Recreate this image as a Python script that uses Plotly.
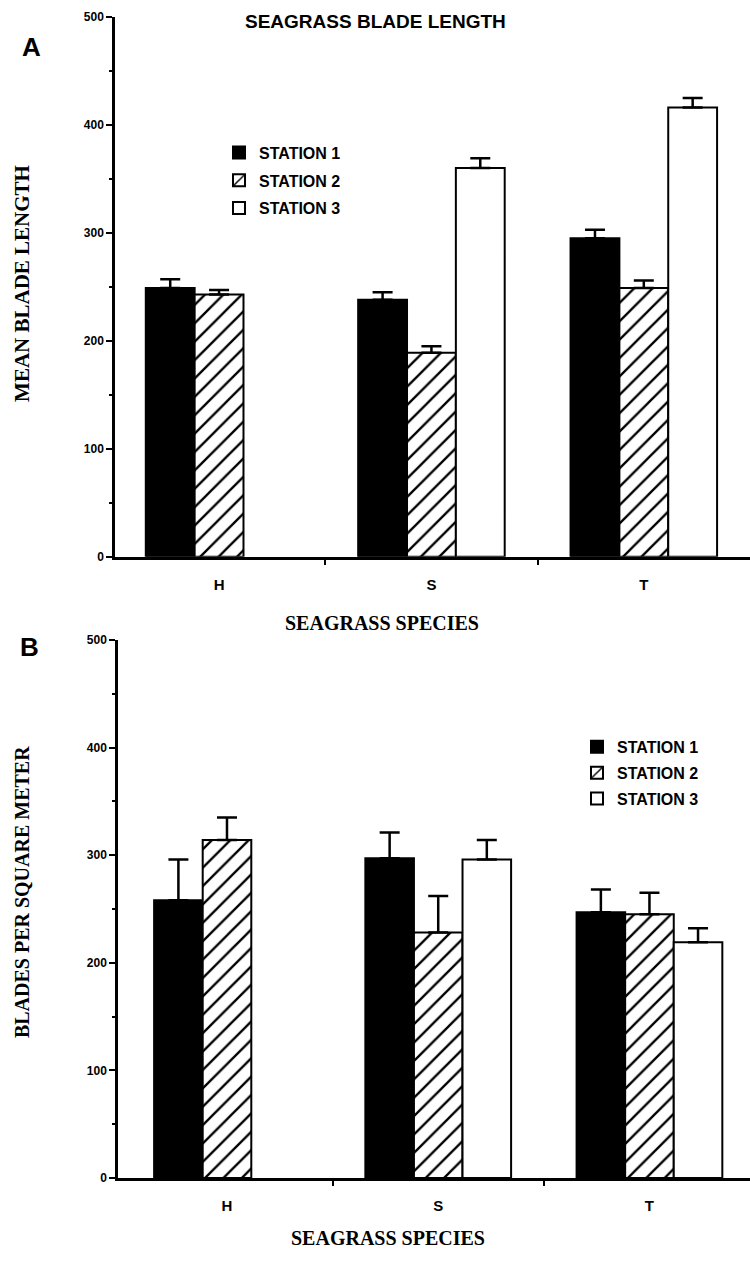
import plotly.graph_objects as go

species = ["H", "S", "T"]
stations = ["STATION 1", "STATION 2", "STATION 3"]

# Panel A: mean blade length
length_s1 = [249, 238, 295]
length_s2 = [243, 189, 249]
length_s3 = [None, 360, 416]
length_err_s1 = [8, 7, 8]
length_err_s2 = [4, 6, 7]
length_err_s3 = [None, 9, 9]

# Panel B: blades per square meter
density_s1 = [258, 297, 247]
density_s2 = [314, 228, 245]
density_s3 = [None, 296, 219]
density_err_s1 = [38, 24, 21]
density_err_s2 = [21, 34, 20]
density_err_s3 = [None, 18, 13]

y_ticks = [0, 100, 200, 300, 400, 500]

W, H = 750, 1268
def px(x): return x / W
def py(y): return 1 - y / H

xpos = [0, 1, 2]

styles = [
    dict(color="black", pattern=None),
    dict(color="white", pattern=dict(shape="/", fgcolor="black", bgcolor="white",
                                     size=13, solidity=0.18, fillmode="replace")),
    dict(color="white", pattern=None),
]

fig = go.Figure()

def add_panel(vals, errs, xa, ya, legend, tag):
    for i, (v, e) in enumerate(zip(vals, errs)):
        st = styles[i]
        marker = dict(color=st["color"], line=dict(color="black", width=2))
        if st["pattern"] is not None:
            marker["pattern"] = st["pattern"]
        fig.add_trace(go.Bar(
            x=xpos, y=v, name=stations[i], marker=marker,
            error_y=dict(type="data", array=[x if x is not None else 0 for x in e],
                         arrayminus=[0, 0, 0], symmetric=False,
                         color="black", thickness=2.5, width=10),
            xaxis=xa, yaxis=ya, legend=legend, legendgroup=tag + str(i),
        ))

add_panel([length_s1, length_s2, length_s3],
          [length_err_s1, length_err_s2, length_err_s3], "x", "y", "legend", "a")
add_panel([density_s1, density_s2, density_s3],
          [density_err_s1, density_err_s2, density_err_s3], "x2", "y2", "legend2", "b")

tickfont = dict(family="Liberation Sans", size=12, color="black", weight="bold")
xtickfont = dict(family="Liberation Sans", size=15, color="black", weight="bold")

def yaxis(domain, anchor):
    return dict(domain=domain, range=[0, 500], tickvals=y_ticks, anchor=anchor,
                ticks="outside", ticklen=6, tickwidth=2, tickcolor="black",
                showline=True, linecolor="black", linewidth=2.5,
                showgrid=False, zeroline=False, tickfont=tickfont,
                minor=dict(dtick=50, ticks="outside", ticklen=3, tickwidth=2,
                           tickcolor="black", showgrid=False),
                fixedrange=True)

def xaxis(domain, rng, anchor):
    return dict(domain=domain, range=rng, anchor=anchor,
                tickvals=xpos, ticktext=species, ticks="",
                showline=True, linecolor="black", linewidth=2.5,
                showgrid=False, zeroline=False, tickfont=xtickfont,
                ticklabelstandoff=12,
                minor=dict(tickvals=[0.5, 1.5], ticks="outside", ticklen=5,
                           tickwidth=2, tickcolor="black", showgrid=False),
                fixedrange=True)

legend_font = dict(family="Liberation Sans", size=16, color="black", weight="bold")

fig.update_layout(
    width=W, height=H,
    margin=dict(l=0, r=0, t=0, b=0),
    paper_bgcolor="white", plot_bgcolor="white",
    barmode="group", bargap=0.31, bargroupgap=0,
    showlegend=True,
    xaxis=xaxis([px(115), 1], [-0.49, 2.5], "y"),
    yaxis=yaxis([py(556), py(10)], "x"),
    xaxis2=xaxis([px(118), 1], [-0.516, 2.476], "y2"),
    yaxis2=yaxis([py(1184), py(640)], "x2"),
    legend=dict(x=px(219), y=py(130), xanchor="left", yanchor="top",
                font=legend_font, bgcolor="rgba(0,0,0,0)", traceorder="grouped",
                tracegroupgap=4, itemclick=False, itemdoubleclick=False),
    legend2=dict(x=px(577), y=py(731), xanchor="left", yanchor="top",
                 font=legend_font, bgcolor="rgba(0,0,0,0)", traceorder="grouped",
                 tracegroupgap=2, itemclick=False, itemdoubleclick=False),
)

serif = dict(family="Liberation Serif", size=20, color="black", weight="bold")
serif_a = dict(family="Liberation Serif", size=21, color="black", weight="bold")
sans_title = dict(family="Liberation Sans", size=19, color="black", weight="bold")
panel_font = dict(family="Liberation Sans", size=26, color="black", weight="bold")

annotations = [
    dict(text="SEAGRASS BLADE LENGTH", x=px(375), y=py(15), font=sans_title),
    dict(text="A", x=px(31), y=py(40), font=panel_font),
    dict(text="B", x=px(29), y=py(647), font=panel_font),
    dict(text="SEAGRASS SPECIES", x=px(382), y=py(623), font=serif),
    dict(text="SEAGRASS SPECIES", x=px(388), y=py(1245), font=serif),
    dict(text="MEAN BLADE LENGTH", x=px(22), y=py(280), font=serif_a, textangle=-90),
    dict(text="BLADES PER SQUARE METER", x=px(22), y=py(895), font=serif, textangle=-90),
]
for a in annotations:
    fig.add_annotation(xref="paper", yref="paper", showarrow=False,
                       xanchor="center", yanchor="middle", **a)

fig.write_html("out.html", config={"displayModeBar": False},
               post_script="document.body.style.margin='0';document.body.style.overflow='hidden';")
